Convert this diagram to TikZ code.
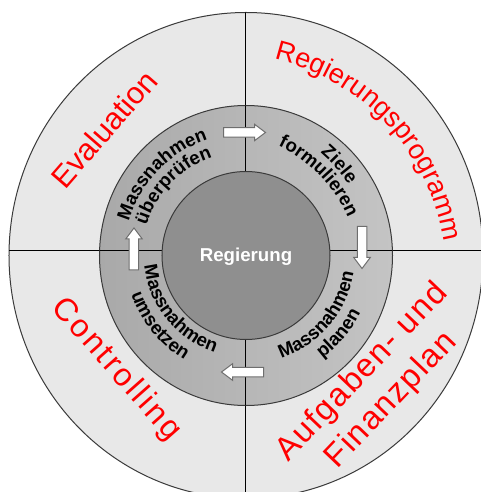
\documentclass[tikz,border=0pt]{standalone}
\usepackage{fontspec}
\setmainfont{Liberation Sans}
\usetikzlibrary{decorations.text,calc}

\definecolor{outerfill}{HTML}{E8E8E8}
\definecolor{ringdark}{HTML}{A9A9A9}
\definecolor{ringlight}{HTML}{C4C4C4}
\definecolor{corefill}{HTML}{8F8F8F}
\definecolor{rimline}{HTML}{3A3A3A}
\definecolor{arrowline}{HTML}{6E6E6E}
\definecolor{cyclered}{HTML}{FF0000}

% fonts used inside the ring and for the outer labels
\newcommand\ringfont{\fontsize{14}{17}\selectfont\bfseries}
\newcommand\bigfont{\fontsize{23}{28}\selectfont}
\newcommand\progfont{\fontsize{20.5}{25}\selectfont}

\tikzset{
  rim/.style={draw=rimline, line width=0.75pt},
  divider/.style={draw=black, line width=0.75pt},
  redlabel/.style={text=cyclered, font=\bigfont, align=center, inner sep=0pt},
  corelabel/.style={text=white, font=\fontsize{14}{17}\selectfont\bfseries, inner sep=0pt},
  blockarrow/.pic={
    \draw[draw=arrowline, fill=white, line width=0.75pt, line join=miter]
      (-21,-4.75) -- (10,-4.75) -- (10,-8.25) -- (21,0) -- (10,8.25)
      -- (10,4.75) -- (-21,4.75) -- cycle;
  },
  ringtext/.style={decorate, decoration={text along path, text align=center, text={#1}}}
}

\begin{document}
\begin{tikzpicture}[x=0.75pt,y=0.75pt]
  \useasboundingbox (-246,-236.5) rectangle (235,255.5);
  \fill[white] (-246,-236.5) rectangle (235,255.5);

  \begin{scope}
    \clip (-246,-236.5) rectangle (235,255.5);
    % outer band
    \path[rim, fill=outerfill] (0,0) ellipse [x radius=237, y radius=243];
    % quadrant dividers, kept inside the outer band
    \begin{scope}
      \clip (0,0) ellipse [x radius=237, y radius=243];
      \draw[divider] (-1,260) -- (-1,-250);
      \draw[divider] (-250,4.5) -- (250,4.5);
    \end{scope}
    % middle ring, then the dividers across it, then the core
    \path[rim, left color=ringdark, right color=ringlight]
      (0,0) ellipse [x radius=146.5, y radius=150];
    \begin{scope}
      \clip (0,0) ellipse [x radius=146.5, y radius=150];
      \draw[divider] (-1,160) -- (-1,-160);
      \draw[divider] (-160,4.5) -- (160,4.5);
    \end{scope}
    \path[rim, fill=corefill] (0,0) circle [radius=84];
  \end{scope}

  % centre label
  \node[corelabel] (core) at (0,-1) {Regierung};

  % cycle arrows
  \pic (arrowTop)    at (-1.5,123)  [rotate=0]   {blockarrow};
  \pic (arrowRight)  at (116,8)     [rotate=-90] {blockarrow};
  \pic (arrowBottom) at (-3.5,-116.5) [rotate=180] {blockarrow};
  \pic (arrowLeft)   at (-112,6.5)  [rotate=90]  {blockarrow};

  % steps of the cycle, set along the ring
  \path[ringtext={|\ringfont|Massnahmen}]   (196:122) arc [start angle=196, end angle=76, radius=122];
  \path[ringtext={|\ringfont|überprüfen}]   (196:104) arc [start angle=196, end angle=76, radius=104];
  \coordinate (zielecentre) at (-30,-20);
  \path[ringtext={|\ringfont|Ziele}]
    ($(zielecentre)+(92:161)$) arc [start angle=92, end angle=-8, radius=161];
  \path[ringtext={|\ringfont|formulieren}]
    ($(zielecentre)+(94:144)$) arc [start angle=94, end angle=-6, radius=144];
  \path[ringtext={|\ringfont|Massnahmen}]   (260:109) arc [start angle=260, end angle=380, radius=109];
  \path[ringtext={|\ringfont|planen}]       (260:128) arc [start angle=260, end angle=380, radius=128];
  \path[ringtext={|\ringfont|Massnahmen}]   (159:102) arc [start angle=159, end angle=279, radius=102];
  \path[ringtext={|\ringfont|umsetzen}]     (159:121) arc [start angle=159, end angle=279, radius=121];

  % outer band labels
  \node[redlabel, rotate=49]   (evaluation)  at (-142,126.5) {Evaluation};
  \node[redlabel, rotate=-48.5, font=\fontsize{24}{29}\selectfont\addfontfeature{LetterSpace=8}]
    (controlling) at (-130,-114) {Controlling};
  \node[redlabel, rotate=46.4, font=\fontsize{24.5}{30}\selectfont\addfontfeature{LetterSpace=5}]
    (finance) at (131,-131) {Aufgaben- und\\Finanzplan};
  \coordinate (progcentre) at (-23,-21.6);
  \path[decorate, decoration={text along path, text align=center,
        text={|\progfont\color{cyclered}|Regierungsprogramm}}]
    ($(progcentre)+(93:224)$) arc [start angle=93, end angle=-7, radius=224];
\end{tikzpicture}
\end{document}
